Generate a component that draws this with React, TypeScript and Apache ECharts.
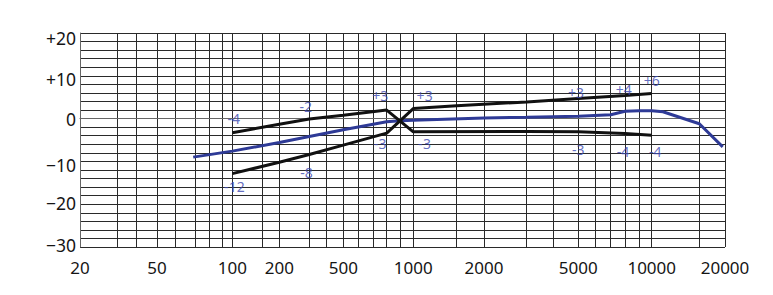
import React, { useEffect, useRef } from 'react';
import * as echarts from 'echarts';

// Axis scale of the printed chart sheet: frequencies of the vertical grid lines
// and their relative places along the axis (0..1000), as drawn on the sheet.
const GRID_FREQS = [20, 30, 40, 50, 60, 70, 80, 90, 100, 150, 200, 300, 400, 500, 600, 700, 800, 900, 1000, 1500, 2000, 3000, 4000, 5000, 6000, 7000, 8000, 9000, 10000, 15000, 20000];
const GRID_UNITS = [0, 58.4, 87.3, 119.4, 148.4, 178.3, 200.5, 220.2, 236.1, 282.2, 309.0, 355.5, 382.5, 408.2, 432.1, 454.7, 475.5, 496.1, 516.7, 584.0, 626.4, 692.6, 734.4, 772.6, 799.5, 822.8, 845.0, 867.1, 886.4, 960.2, 1000];

const X_TICK_LABELS = [20, 50, 100, 200, 500, 1000, 2000, 5000, 10000, 20000];
const Y_TICK_LABELS = [-30, -20, -10, 0, 10, 20];

// Blue: measured response
const BLUE_FREQ = [69, 100, 200, 300, 500, 800, 900, 1000, 2000, 3000, 5000, 7000, 8000, 9000, 10000, 11000, 15000, 19500];
const BLUE_DB = [-9.0, -7.6, -5.6, -4.2, -2.6, -0.75, -0.5, -0.4, 0.15, 0.3, 0.55, 0.9, 1.7, 1.85, 1.85, 1.6, -1.2, -6.6];

// Black curve A: rises to +2 at 800 Hz, crosses down, stays near -3 to -4
const A_FREQ = [100, 200, 300, 500, 800, 1000, 3000, 5000, 8000, 10000];
const A_DB = [-3.3, -1.3, -0.1, 0.8, 2.0, -3.1, -3.0, -3.1, -3.5, -3.9];

// Black curve B: rises from -12.9 to -3.4 at 800 Hz, crosses up, rises to +6
const B_FREQ = [100, 200, 300, 500, 800, 1000, 1500, 3000, 5000, 8000, 10000];
const B_DB = [-12.85, -10.2, -8.4, -6.2, -3.4, 2.35, 3.0, 3.9, 4.7, 5.4, 5.85];

// Annotations
const NOTE_TEXT = ['-4', '-12', '-2', '-8', '+3', '+3', '-3', '-3', '+3', '+4', '+6', '-3', '-4', '-4'];
const NOTE_FREQ = [102, 103, 286, 289, 750, 1112, 750, 1112, 4900, 7900, 10000, 5000, 7850, 10300];
const NOTE_DB = [0.0, -15.8, 2.9, -12.7, 5.5, 5.5, -5.85, -5.8, 6.0, 6.8, 8.9, -7.2, -7.7, -7.8];

function toUnit(f: number): number {
  if (f <= GRID_FREQS[0]) return GRID_UNITS[0];
  for (let i = 0; i < GRID_FREQS.length - 1; i++) {
    const a = GRID_FREQS[i];
    const b = GRID_FREQS[i + 1];
    if (f <= b) {
      const t = (Math.log(f) - Math.log(a)) / (Math.log(b) - Math.log(a));
      return GRID_UNITS[i] + t * (GRID_UNITS[i + 1] - GRID_UNITS[i]);
    }
  }
  return GRID_UNITS[GRID_UNITS.length - 1];
}

function pairs(fs: number[], vs: number[]) {
  return fs.map((f, i) => [toUnit(f), vs[i]]);
}

const FONT = '"Noto Sans", sans-serif';
const AXIS_TEXT = '#151515';

export default function App() {
  const ref = useRef<HTMLDivElement>(null);
  useEffect(() => {
    if (!ref.current) return;
    const chart = echarts.init(ref.current, undefined, { renderer: 'svg' });
    const labelUnits = X_TICK_LABELS.map(toUnit);
    const fmtX = (v: number) => {
      let best = 0;
      let bd = Infinity;
      labelUnits.forEach((u, i) => {
        const d = Math.abs(u - v);
        if (d < bd) { bd = d; best = i; }
      });
      return String(X_TICK_LABELS[best]);
    };
    const yStyleKey: Record<string, string> = { '20': 'a', '10': 'b', '0': 'c', '-10': 'd', '-20': 'e', '-30': 'f' };
    const fmtY = (v: number) => {
      if (!Y_TICK_LABELS.includes(v)) return '';
      const txt = v > 0 ? '+' + v : v < 0 ? '\u2212' + -v : '0';
      return '{' + yStyleKey[String(v)] + '|' + txt + '}';
    };
    const ys = (pad: number[]) => ({ color: AXIS_TEXT, fontSize: 17.5, fontFamily: FONT, padding: pad });
    chart.setOption({
      animation: false,
      backgroundColor: '#ffffff',
      grid: { left: 80, right: 48, top: 33, bottom: 48, containLabel: false },
      xAxis: {
        type: 'value',
        min: 0,
        max: 1000,
        axisLine: { show: true, lineStyle: { color: '#666', width: 1 } },
        axisTick: { show: false, customValues: GRID_UNITS },
        axisLabel: {
          customValues: labelUnits,
          formatter: fmtX,
          color: AXIS_TEXT,
          fontSize: 17,
          fontFamily: FONT,
          margin: 12,
        },
        splitLine: { show: true, lineStyle: { color: '#2a2a2a', width: 1 } },
      },
      yAxis: {
        type: 'value',
        min: -30,
        max: 20,
        interval: 2,
        axisLine: { show: true, lineStyle: { color: '#666', width: 1 } },
        axisTick: { show: false },
        axisLabel: {
          formatter: fmtY,
          color: AXIS_TEXT,
          fontSize: 17.5,
          fontFamily: FONT,
          margin: 4,
          rich: {
            a: ys([9, 0, 0, 0]),
            b: ys([7, 0, 0, 0]),
            c: ys([1, 0, 0, 0]),
            d: ys([8, 0, 0, 0]),
            e: ys([0, 0, 2, 0]),
            f: ys([0, 0, 5, 0]),
          },
        },
        splitLine: { show: true, lineStyle: { color: '#2a2a2a', width: 1 } },
      },
      series: [
        {
          type: 'line',
          data: pairs(BLUE_FREQ, BLUE_DB),
          showSymbol: false,
          lineStyle: { color: '#2e3a96', width: 3 },
          z: 3,
        },
        {
          type: 'line',
          data: pairs(A_FREQ, A_DB),
          showSymbol: false,
          lineStyle: { color: '#111', width: 3 },
          z: 4,
        },
        {
          type: 'line',
          data: pairs(B_FREQ, B_DB),
          showSymbol: false,
          lineStyle: { color: '#111', width: 3 },
          z: 4,
        },
        {
          type: 'scatter',
          data: NOTE_TEXT.map((t, i) => [toUnit(NOTE_FREQ[i]), NOTE_DB[i], t]),
          symbolSize: 1,
          itemStyle: { color: 'rgba(0,0,0,0)' },
          label: {
            show: true,
            position: 'inside',
            formatter: (p: any) => p.data[2],
            color: '#3b48b0',
            fontSize: 14,
            fontFamily: FONT,
          },
          z: 5,
        },
      ],
    });
    return () => chart.dispose();
  }, []);
  return (
    <div
      ref={ref}
      style={{ position: 'fixed', left: 0, top: 0, width: 773, height: 295, background: '#fff' }}
    />
  );
}
